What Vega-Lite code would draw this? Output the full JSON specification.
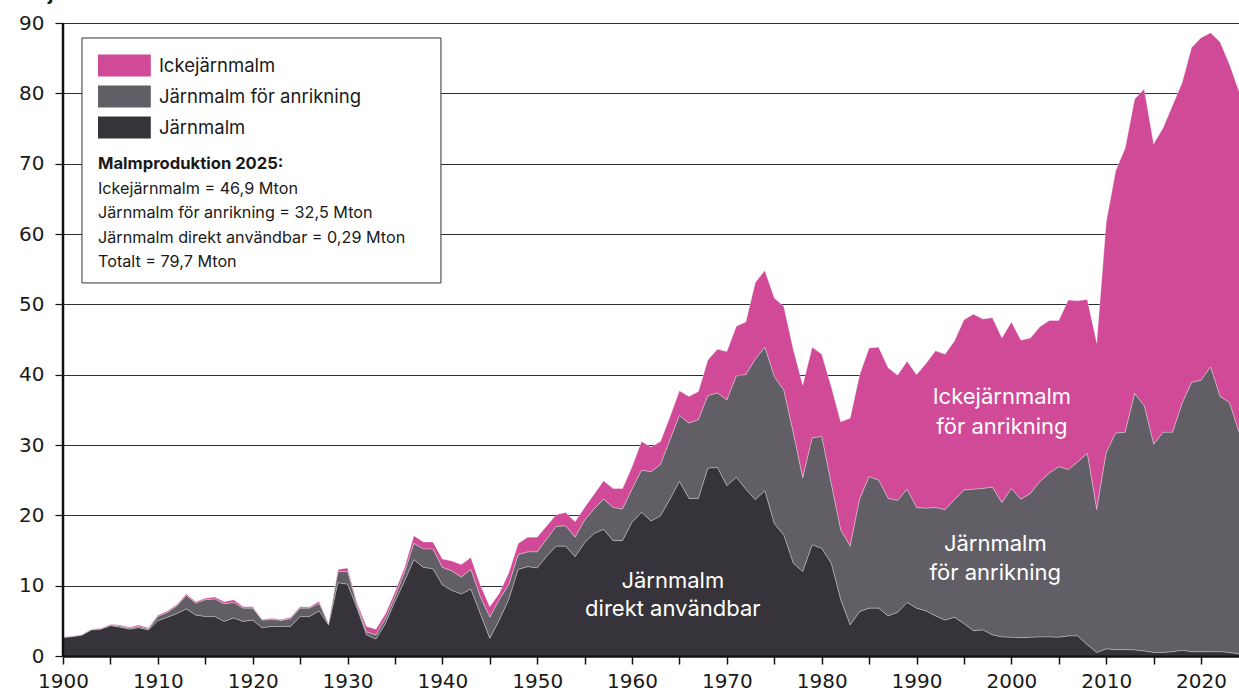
{
  "$schema": "https://vega.github.io/schema/vega-lite/v6.json",
  "width": 1176,
  "height": 633,
  "autosize": {"type": "none"},
  "padding": {"left": 63, "top": 23, "right": 0, "bottom": 39},
  "background": "white",
  "config": {"font": "Inter", "view": {"stroke": null}},
  "layer": [
    {
      "data": {"values": [
        {"år":1900,"Järnmalm":2.6,"Järnmalm för anrikning":0.05,"Ickejärnmalm":0.05},
        {"år":1901,"Järnmalm":2.75,"Järnmalm för anrikning":0.05,"Ickejärnmalm":0.05},
        {"år":1902,"Järnmalm":2.95,"Järnmalm för anrikning":0.05,"Ickejärnmalm":0.05},
        {"år":1903,"Järnmalm":3.7,"Järnmalm för anrikning":0.05,"Ickejärnmalm":0.1},
        {"år":1904,"Järnmalm":3.8,"Järnmalm för anrikning":0.05,"Ickejärnmalm":0.1},
        {"år":1905,"Järnmalm":4.3,"Järnmalm för anrikning":0.1,"Ickejärnmalm":0.1},
        {"år":1906,"Järnmalm":4.1,"Järnmalm för anrikning":0.15,"Ickejärnmalm":0.15},
        {"år":1907,"Järnmalm":3.8,"Järnmalm för anrikning":0.15,"Ickejärnmalm":0.15},
        {"år":1908,"Järnmalm":4.0,"Järnmalm för anrikning":0.2,"Ickejärnmalm":0.2},
        {"år":1909,"Järnmalm":3.7,"Järnmalm för anrikning":0.15,"Ickejärnmalm":0.15},
        {"år":1910,"Järnmalm":5.0,"Järnmalm för anrikning":0.6,"Ickejärnmalm":0.2},
        {"år":1911,"Järnmalm":5.5,"Järnmalm för anrikning":0.7,"Ickejärnmalm":0.2},
        {"år":1912,"Järnmalm":6.0,"Järnmalm för anrikning":1.1,"Ickejärnmalm":0.2},
        {"år":1913,"Järnmalm":6.7,"Järnmalm för anrikning":1.9,"Ickejärnmalm":0.2},
        {"år":1914,"Järnmalm":5.8,"Järnmalm för anrikning":1.7,"Ickejärnmalm":0.2},
        {"år":1915,"Järnmalm":5.6,"Järnmalm för anrikning":2.4,"Ickejärnmalm":0.2},
        {"år":1916,"Järnmalm":5.6,"Järnmalm för anrikning":2.5,"Ickejärnmalm":0.3},
        {"år":1917,"Järnmalm":4.9,"Järnmalm för anrikning":2.5,"Ickejärnmalm":0.3},
        {"år":1918,"Järnmalm":5.4,"Järnmalm för anrikning":2.2,"Ickejärnmalm":0.4},
        {"år":1919,"Järnmalm":4.9,"Järnmalm för anrikning":1.9,"Ickejärnmalm":0.2},
        {"år":1920,"Järnmalm":5.1,"Järnmalm för anrikning":1.7,"Ickejärnmalm":0.2},
        {"år":1921,"Järnmalm":4.0,"Järnmalm för anrikning":1.1,"Ickejärnmalm":0.1},
        {"år":1922,"Järnmalm":4.2,"Järnmalm för anrikning":1.0,"Ickejärnmalm":0.15},
        {"år":1923,"Järnmalm":4.2,"Järnmalm för anrikning":0.85,"Ickejärnmalm":0.15},
        {"år":1924,"Järnmalm":4.2,"Järnmalm för anrikning":1.1,"Ickejärnmalm":0.2},
        {"år":1925,"Järnmalm":5.6,"Järnmalm för anrikning":1.2,"Ickejärnmalm":0.2},
        {"år":1926,"Järnmalm":5.6,"Järnmalm för anrikning":1.2,"Ickejärnmalm":0.15},
        {"år":1927,"Järnmalm":6.4,"Järnmalm för anrikning":1.1,"Ickejärnmalm":0.3},
        {"år":1928,"Järnmalm":4.4,"Järnmalm för anrikning":0.1,"Ickejärnmalm":0.1},
        {"år":1929,"Järnmalm":10.4,"Järnmalm för anrikning":1.6,"Ickejärnmalm":0.3},
        {"år":1930,"Järnmalm":10.2,"Järnmalm för anrikning":1.8,"Ickejärnmalm":0.5},
        {"år":1931,"Järnmalm":6.8,"Järnmalm för anrikning":0.4,"Ickejärnmalm":0.4},
        {"år":1932,"Järnmalm":3.0,"Järnmalm för anrikning":0.4,"Ickejärnmalm":0.8},
        {"år":1933,"Järnmalm":2.4,"Järnmalm för anrikning":0.6,"Ickejärnmalm":0.8},
        {"år":1934,"Järnmalm":4.6,"Järnmalm för anrikning":0.7,"Ickejärnmalm":0.7},
        {"år":1935,"Järnmalm":7.7,"Järnmalm för anrikning":0.7,"Ickejärnmalm":0.7},
        {"år":1936,"Järnmalm":10.6,"Järnmalm för anrikning":1.2,"Ickejärnmalm":0.7},
        {"år":1937,"Järnmalm":13.7,"Järnmalm för anrikning":2.3,"Ickejärnmalm":1.1},
        {"år":1938,"Järnmalm":12.6,"Järnmalm för anrikning":2.6,"Ickejärnmalm":1.0},
        {"år":1939,"Järnmalm":12.4,"Järnmalm för anrikning":2.8,"Ickejärnmalm":1.0},
        {"år":1940,"Järnmalm":10.1,"Järnmalm för anrikning":2.5,"Ickejärnmalm":1.2},
        {"år":1941,"Järnmalm":9.3,"Järnmalm för anrikning":2.8,"Ickejärnmalm":1.4},
        {"år":1942,"Järnmalm":8.8,"Järnmalm för anrikning":2.4,"Ickejärnmalm":1.8},
        {"år":1943,"Järnmalm":9.5,"Järnmalm för anrikning":2.8,"Ickejärnmalm":1.7},
        {"år":1944,"Järnmalm":6.0,"Järnmalm för anrikning":2.4,"Ickejärnmalm":1.7},
        {"år":1945,"Järnmalm":2.5,"Järnmalm för anrikning":3.0,"Ickejärnmalm":1.5},
        {"år":1946,"Järnmalm":5.1,"Järnmalm för anrikning":2.9,"Ickejärnmalm":0.9},
        {"år":1947,"Järnmalm":8.0,"Järnmalm för anrikning":2.1,"Ickejärnmalm":1.7},
        {"år":1948,"Järnmalm":12.3,"Järnmalm för anrikning":2.1,"Ickejärnmalm":1.6},
        {"år":1949,"Järnmalm":12.7,"Järnmalm för anrikning":2.1,"Ickejärnmalm":2.1},
        {"år":1950,"Järnmalm":12.5,"Järnmalm för anrikning":2.3,"Ickejärnmalm":2.1},
        {"år":1951,"Järnmalm":14.2,"Järnmalm för anrikning":2.4,"Ickejärnmalm":1.9},
        {"år":1952,"Järnmalm":15.6,"Järnmalm för anrikning":2.8,"Ickejärnmalm":1.7},
        {"år":1953,"Järnmalm":15.6,"Järnmalm för anrikning":2.9,"Ickejärnmalm":1.9},
        {"år":1954,"Järnmalm":14.1,"Järnmalm för anrikning":2.8,"Ickejärnmalm":2.2},
        {"år":1955,"Järnmalm":16.1,"Järnmalm för anrikning":3.2,"Ickejärnmalm":1.8},
        {"år":1956,"Järnmalm":17.4,"Järnmalm för anrikning":3.5,"Ickejärnmalm":2.1},
        {"år":1957,"Järnmalm":18.0,"Järnmalm för anrikning":4.3,"Ickejärnmalm":2.6},
        {"år":1958,"Järnmalm":16.4,"Järnmalm för anrikning":4.7,"Ickejärnmalm":2.7},
        {"år":1959,"Järnmalm":16.4,"Järnmalm för anrikning":4.5,"Ickejärnmalm":2.9},
        {"år":1960,"Järnmalm":19.0,"Järnmalm för anrikning":4.7,"Ickejärnmalm":3.2},
        {"år":1961,"Järnmalm":20.4,"Järnmalm för anrikning":6.0,"Ickejärnmalm":4.1},
        {"år":1962,"Järnmalm":19.2,"Järnmalm för anrikning":7.0,"Ickejärnmalm":3.5},
        {"år":1963,"Järnmalm":19.9,"Järnmalm för anrikning":7.3,"Ickejärnmalm":3.3},
        {"år":1964,"Järnmalm":22.3,"Järnmalm för anrikning":8.4,"Ickejärnmalm":3.3},
        {"år":1965,"Järnmalm":24.8,"Järnmalm för anrikning":9.4,"Ickejärnmalm":3.5},
        {"år":1966,"Järnmalm":22.4,"Järnmalm för anrikning":10.7,"Ickejärnmalm":3.8},
        {"år":1967,"Järnmalm":22.4,"Järnmalm för anrikning":11.2,"Ickejärnmalm":4.0},
        {"år":1968,"Järnmalm":26.7,"Järnmalm för anrikning":10.3,"Ickejärnmalm":5.1},
        {"år":1969,"Järnmalm":26.8,"Järnmalm för anrikning":10.6,"Ickejärnmalm":6.2},
        {"år":1970,"Järnmalm":24.2,"Järnmalm för anrikning":12.2,"Ickejärnmalm":6.9},
        {"år":1971,"Järnmalm":25.4,"Järnmalm för anrikning":14.4,"Ickejärnmalm":7.1},
        {"år":1972,"Järnmalm":23.7,"Järnmalm för anrikning":16.3,"Ickejärnmalm":7.5},
        {"år":1973,"Järnmalm":22.2,"Järnmalm för anrikning":20.0,"Ickejärnmalm":10.9},
        {"år":1974,"Järnmalm":23.5,"Järnmalm för anrikning":20.4,"Ickejärnmalm":10.9},
        {"år":1975,"Järnmalm":18.8,"Järnmalm för anrikning":20.9,"Ickejärnmalm":11.2},
        {"år":1976,"Järnmalm":17.2,"Järnmalm för anrikning":20.6,"Ickejärnmalm":11.9},
        {"år":1977,"Järnmalm":13.2,"Järnmalm för anrikning":18.5,"Ickejärnmalm":11.9},
        {"år":1978,"Järnmalm":12.0,"Järnmalm för anrikning":13.3,"Ickejärnmalm":13.2},
        {"år":1979,"Järnmalm":15.8,"Järnmalm för anrikning":15.2,"Ickejärnmalm":12.9},
        {"år":1980,"Järnmalm":15.3,"Järnmalm för anrikning":15.9,"Ickejärnmalm":11.7},
        {"år":1981,"Järnmalm":13.2,"Järnmalm för anrikning":11.3,"Ickejärnmalm":13.8},
        {"år":1982,"Järnmalm":8.0,"Järnmalm för anrikning":9.9,"Ickejärnmalm":15.4},
        {"år":1983,"Järnmalm":4.4,"Järnmalm för anrikning":11.2,"Ickejärnmalm":18.2},
        {"år":1984,"Järnmalm":6.3,"Järnmalm för anrikning":16.0,"Ickejärnmalm":17.7},
        {"år":1985,"Järnmalm":6.8,"Järnmalm för anrikning":18.7,"Ickejärnmalm":18.3},
        {"år":1986,"Järnmalm":6.8,"Järnmalm för anrikning":18.2,"Ickejärnmalm":18.9},
        {"år":1987,"Järnmalm":5.7,"Järnmalm för anrikning":16.7,"Ickejärnmalm":18.6},
        {"år":1988,"Järnmalm":6.2,"Järnmalm för anrikning":15.9,"Ickejärnmalm":17.8},
        {"år":1989,"Järnmalm":7.6,"Järnmalm för anrikning":16.1,"Ickejärnmalm":18.2},
        {"år":1990,"Järnmalm":6.8,"Järnmalm för anrikning":14.3,"Ickejärnmalm":18.9},
        {"år":1991,"Järnmalm":6.4,"Järnmalm för anrikning":14.6,"Ickejärnmalm":20.6},
        {"år":1992,"Järnmalm":5.7,"Järnmalm för anrikning":15.4,"Ickejärnmalm":22.3},
        {"år":1993,"Järnmalm":5.1,"Järnmalm för anrikning":15.7,"Ickejärnmalm":22.1},
        {"år":1994,"Järnmalm":5.5,"Järnmalm för anrikning":16.7,"Ickejärnmalm":22.6},
        {"år":1995,"Järnmalm":4.6,"Järnmalm för anrikning":19.0,"Ickejärnmalm":24.2},
        {"år":1996,"Järnmalm":3.6,"Järnmalm för anrikning":20.1,"Ickejärnmalm":24.9},
        {"år":1997,"Järnmalm":3.7,"Järnmalm för anrikning":20.1,"Ickejärnmalm":24.1},
        {"år":1998,"Järnmalm":3.0,"Järnmalm för anrikning":21.0,"Ickejärnmalm":24.1},
        {"år":1999,"Järnmalm":2.7,"Järnmalm för anrikning":19.1,"Ickejärnmalm":23.4},
        {"år":2000,"Järnmalm":2.65,"Järnmalm för anrikning":21.15,"Ickejärnmalm":23.7},
        {"år":2001,"Järnmalm":2.6,"Järnmalm för anrikning":19.7,"Ickejärnmalm":22.6},
        {"år":2002,"Järnmalm":2.65,"Järnmalm för anrikning":20.45,"Ickejärnmalm":22.1},
        {"år":2003,"Järnmalm":2.7,"Järnmalm för anrikning":22.1,"Ickejärnmalm":22.0},
        {"år":2004,"Järnmalm":2.7,"Järnmalm för anrikning":23.3,"Ickejärnmalm":21.7},
        {"år":2005,"Järnmalm":2.65,"Järnmalm för anrikning":24.25,"Ickejärnmalm":20.8},
        {"år":2006,"Järnmalm":2.85,"Järnmalm för anrikning":23.65,"Ickejärnmalm":24.1},
        {"år":2007,"Järnmalm":2.85,"Järnmalm för anrikning":24.75,"Ickejärnmalm":22.9},
        {"år":2008,"Järnmalm":1.6,"Järnmalm för anrikning":27.2,"Ickejärnmalm":21.9},
        {"år":2009,"Järnmalm":0.5,"Järnmalm för anrikning":20.3,"Ickejärnmalm":23.7},
        {"år":2010,"Järnmalm":1.0,"Järnmalm för anrikning":27.9,"Ickejärnmalm":32.8},
        {"år":2011,"Järnmalm":0.9,"Järnmalm för anrikning":30.8,"Ickejärnmalm":37.3},
        {"år":2012,"Järnmalm":0.9,"Järnmalm för anrikning":30.9,"Ickejärnmalm":40.4},
        {"år":2013,"Järnmalm":0.85,"Järnmalm för anrikning":36.45,"Ickejärnmalm":41.9},
        {"år":2014,"Järnmalm":0.7,"Järnmalm för anrikning":34.9,"Ickejärnmalm":45.0},
        {"år":2015,"Järnmalm":0.5,"Järnmalm för anrikning":29.6,"Ickejärnmalm":42.7},
        {"år":2016,"Järnmalm":0.5,"Järnmalm för anrikning":31.3,"Ickejärnmalm":43.3},
        {"år":2017,"Järnmalm":0.6,"Järnmalm för anrikning":31.2,"Ickejärnmalm":46.5},
        {"år":2018,"Järnmalm":0.8,"Järnmalm för anrikning":35.1,"Ickejärnmalm":45.6},
        {"år":2019,"Järnmalm":0.6,"Järnmalm för anrikning":38.3,"Ickejärnmalm":47.6},
        {"år":2020,"Järnmalm":0.6,"Järnmalm för anrikning":38.6,"Ickejärnmalm":48.7},
        {"år":2021,"Järnmalm":0.6,"Järnmalm för anrikning":40.5,"Ickejärnmalm":47.5},
        {"år":2022,"Järnmalm":0.6,"Järnmalm för anrikning":36.3,"Ickejärnmalm":50.4},
        {"år":2023,"Järnmalm":0.5,"Järnmalm för anrikning":35.5,"Ickejärnmalm":48.1},
        {"år":2024,"Järnmalm":0.3,"Järnmalm för anrikning":31.5,"Ickejärnmalm":48.5},
        {"år":2025,"Järnmalm":0.29,"Järnmalm för anrikning":32.5,"Ickejärnmalm":46.9}
      ]},
      "transform": [
        {"fold": ["Ickejärnmalm", "Järnmalm för anrikning", "Järnmalm"], "as": ["typ", "Mton"]},
        {"lookup": "typ", "from": {"data": {"values": [
          {"typ": "Järnmalm", "nivå": 1},
          {"typ": "Järnmalm för anrikning", "nivå": 2},
          {"typ": "Ickejärnmalm", "nivå": 3}
        ]}, "key": "typ", "fields": ["nivå"]}}
      ],
      "mark": {"type": "area", "clip": true, "stroke": "white", "strokeWidth": 1, "strokeOpacity": 0.3, "strokeJoin": "round"},
      "encoding": {
        "x": {
          "field": "år", "type": "quantitative",
          "scale": {"domain": [1900, 2024], "nice": false, "zero": false},
          "axis": {
            "title": null, "grid": false, "zindex": 1,
            "values": [1900,1905,1910,1915,1920,1925,1930,1935,1940,1945,1950,1955,1960,1965,1970,1975,1980,1985,1990,1995,2000,2005,2010,2015,2020],
            "format": "d",
            "labelExpr": "datum.value % 10 === 0 ? datum.label : ''",
            "domainColor": "#111111", "domainWidth": 2.5,
            "tickColor": "#111111", "tickWidth": 1.5, "tickSize": 8,
            "labelFont": "DejaVu Sans", "labelFontSize": 20, "labelColor": "#1a1a1a", "labelPadding": 7,
            "labelFlush": false, "labelOverlap": false
          }
        },
        "y": {
          "field": "Mton", "type": "quantitative", "stack": "zero",
          "scale": {"domain": [0, 90], "nice": false},
          "axis": {
            "values": [0,10,20,30,40,50,60,70,80,90],
            "grid": true, "gridColor": "#2e2e2e", "gridWidth": 1.2,
            "domain": false,
            "tickColor": "#111111", "tickWidth": 1.2, "tickSize": 8,
            "labelFont": "DejaVu Sans", "labelFontSize": 20, "labelColor": "#1a1a1a", "labelPadding": 11,
            "title": "Miljoner ton", "titleAngle": 0, "titleX": -45, "titleY": -24,
            "titleAlign": "left", "titleBaseline": "alphabetic", "titleFontSize": 20,
            "titleFontWeight": "bold", "titleColor": "#1a1a1a"
          }
        },
        "order": {"field": "nivå", "type": "quantitative"},
        "color": {
          "field": "typ", "type": "nominal",
          "sort": ["Ickejärnmalm", "Järnmalm för anrikning", "Järnmalm"],
          "scale": {
            "domain": ["Ickejärnmalm", "Järnmalm för anrikning", "Järnmalm"],
            "range": ["#d04a98", "#625e65", "#36343a"]
          },
          "legend": {
            "orient": "none", "legendX": 35, "legendY": 31,
            "direction": "vertical",
            "padding": 0,
            "title": null,
            "rowPadding": 4,
            "symbolType": "M-2.4,-1H2.4V1H-2.4Z",
            "symbolSize": 484,
            "symbolOffset": 14.9,
            "symbolStrokeColor": "#6b6b6b", "symbolStrokeWidth": 1, "symbolOpacity": 1,
            "labelFontSize": 18.5, "labelColor": "#1a1a1a", "labelOffset": 23, "labelLimit": 400,
            "encode": {"symbols": {"update": {"fill": {"signal": "datum.value === 'Järnmalm' ? '#000000' : scale('color', datum.value)"}}}}
          }
        }
      }
    },
    {
      "data": {"values": [{}]},
      "mark": {"type": "rule", "color": "#111111", "strokeWidth": 2.5},
      "encoding": {"x": {"datum": 1900}, "y": {"datum": 0}, "y2": {"datum": 90}}
    },
    {
      "data": {"values": [{}]},
      "mark": {"type": "text", "text": ["Järnmalm", "direkt användbar"], "lineHeight": 28, "fontSize": 22, "color": "white", "align": "center", "baseline": "middle"},
      "encoding": {"x": {"datum": 1964.3}, "y": {"datum": 10.66}}
    },
    {
      "data": {"values": [{}]},
      "mark": {"type": "text", "text": ["Ickejärnmalm", "för anrikning"], "lineHeight": 30, "fontSize": 22, "color": "white", "align": "center", "baseline": "middle"},
      "encoding": {"x": {"datum": 1999.0}, "y": {"datum": 36.82}}
    },
    {
      "data": {"values": [{}]},
      "mark": {"type": "text", "text": ["Järnmalm", "för anrikning"], "lineHeight": 29, "fontSize": 22, "color": "white", "align": "center", "baseline": "middle"},
      "encoding": {"x": {"datum": 1998.3}, "y": {"datum": 15.93}}
    },
    {
      "data": {"values": [{}]},
      "mark": {"type": "rect", "fill": "white", "stroke": "#333333", "strokeWidth": 1},
      "encoding": {"x": {"datum": 1902.0}, "x2": {"datum": 1939.85}, "y": {"datum": 87.87}, "y2": {"datum": 53.04}}
    },
    {
      "data": {"values": [{}]},
      "mark": {"type": "text", "text": "Malmproduktion 2025:", "fontSize": 16.6, "fontWeight": "bold", "color": "#1a1a1a", "align": "left", "baseline": "middle"},
      "encoding": {"x": {"datum": 1903.69}, "y": {"datum": 69.96}}
    },
    {
      "data": {"values": [{}]},
      "mark": {"type": "text", "text": ["Ickejärnmalm = 46,9 Mton", "Järnmalm för anrikning = 32,5 Mton", "Järnmalm direkt användbar = 0,29 Mton", "Totalt = 79,7 Mton"], "lineHeight": 24.5, "fontSize": 16.2, "color": "#1a1a1a", "align": "left", "baseline": "middle"},
      "encoding": {"x": {"datum": 1903.69}, "y": {"datum": 66.4}}
    }
  ]
}
